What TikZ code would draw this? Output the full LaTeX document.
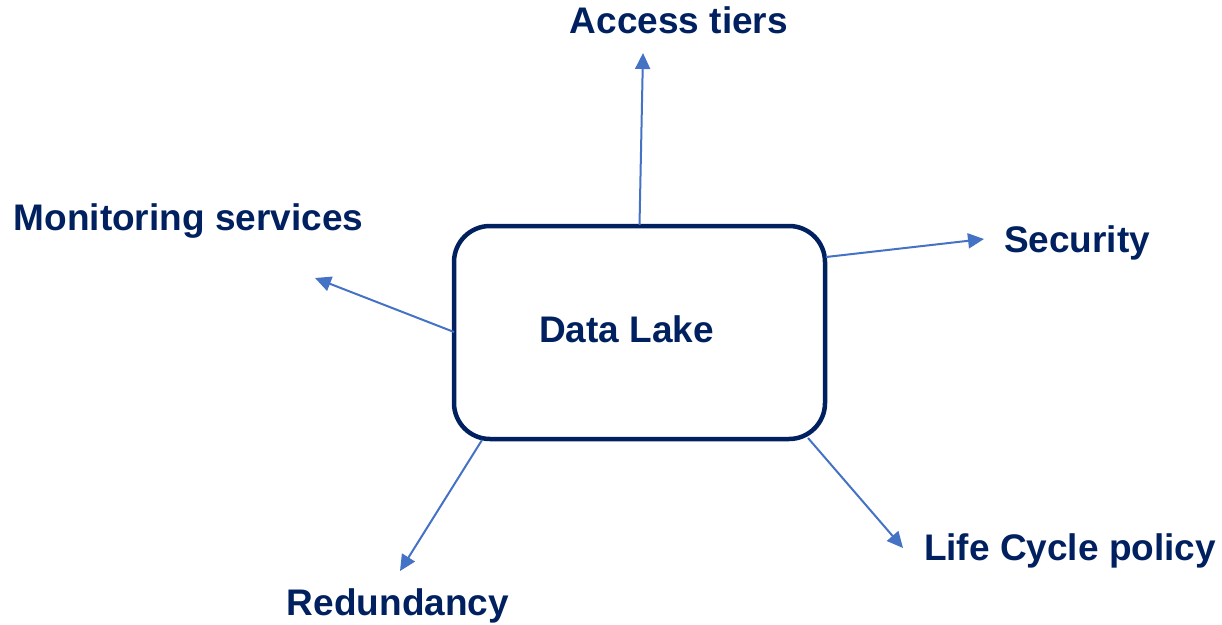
\documentclass[tikz,border=0pt]{standalone}
\usepackage{fontspec}
\setmainfont{Liberation Sans}
\usetikzlibrary{arrows.meta}
\definecolor{navy}{HTML}{002060}
\definecolor{arrowblue}{HTML}{4472C4}
\tikzset{
  lbl/.style={anchor=base, text=navy, font=\bfseries\fontsize{37}{44}\selectfont, inner sep=0pt},
  lakebox/.style={draw=navy, line width=4.5pt, rounded corners=36pt, minimum width=371pt, minimum height=213pt, inner sep=0pt},
  conn/.style={draw=arrowblue, line width=2pt, -{Triangle[length=16pt,width=15pt]}}
}
\begin{document}
\begin{tikzpicture}[x=1pt,y=-1pt]
\useasboundingbox (0,0) rectangle (1222,624);
\node[lakebox] (lake) at (639.5,332.5) {};
\node[lbl] (lakelabel) at (626.5,342) {Data Lake};
\node[lbl] (access) at (679,33) {Access tiers};
\node[lbl] (monitor) at (188.5,230) {Monitoring services};
\node[lbl] (security) at (1077,252) {Security};
\node[lbl] (redund) at (398,615) {Redundancy};
\node[lbl] (life) at (1070,560) {Life Cycle policy};
% start points on the box
\coordinate (sAccess) at (639.5,225);
\coordinate (sSec) at (826,257);
\coordinate (sMon) at (454,332);
\coordinate (sRed) at (482,440);
\coordinate (sLife) at (808,438);
% arrow tips
\coordinate (tAccess) at (643,53);
\coordinate (tSec) at (984,239);
\coordinate (tMon) at (315,278);
\coordinate (tRed) at (400,571);
\coordinate (tLife) at (903,548);
\draw[conn] (sAccess) -- (tAccess);
\draw[conn] (sSec) -- (tSec);
\draw[conn] (sMon) -- (tMon);
\draw[conn] (sRed) -- (tRed);
\draw[conn] (sLife) -- (tLife);
\end{tikzpicture}
\end{document}
